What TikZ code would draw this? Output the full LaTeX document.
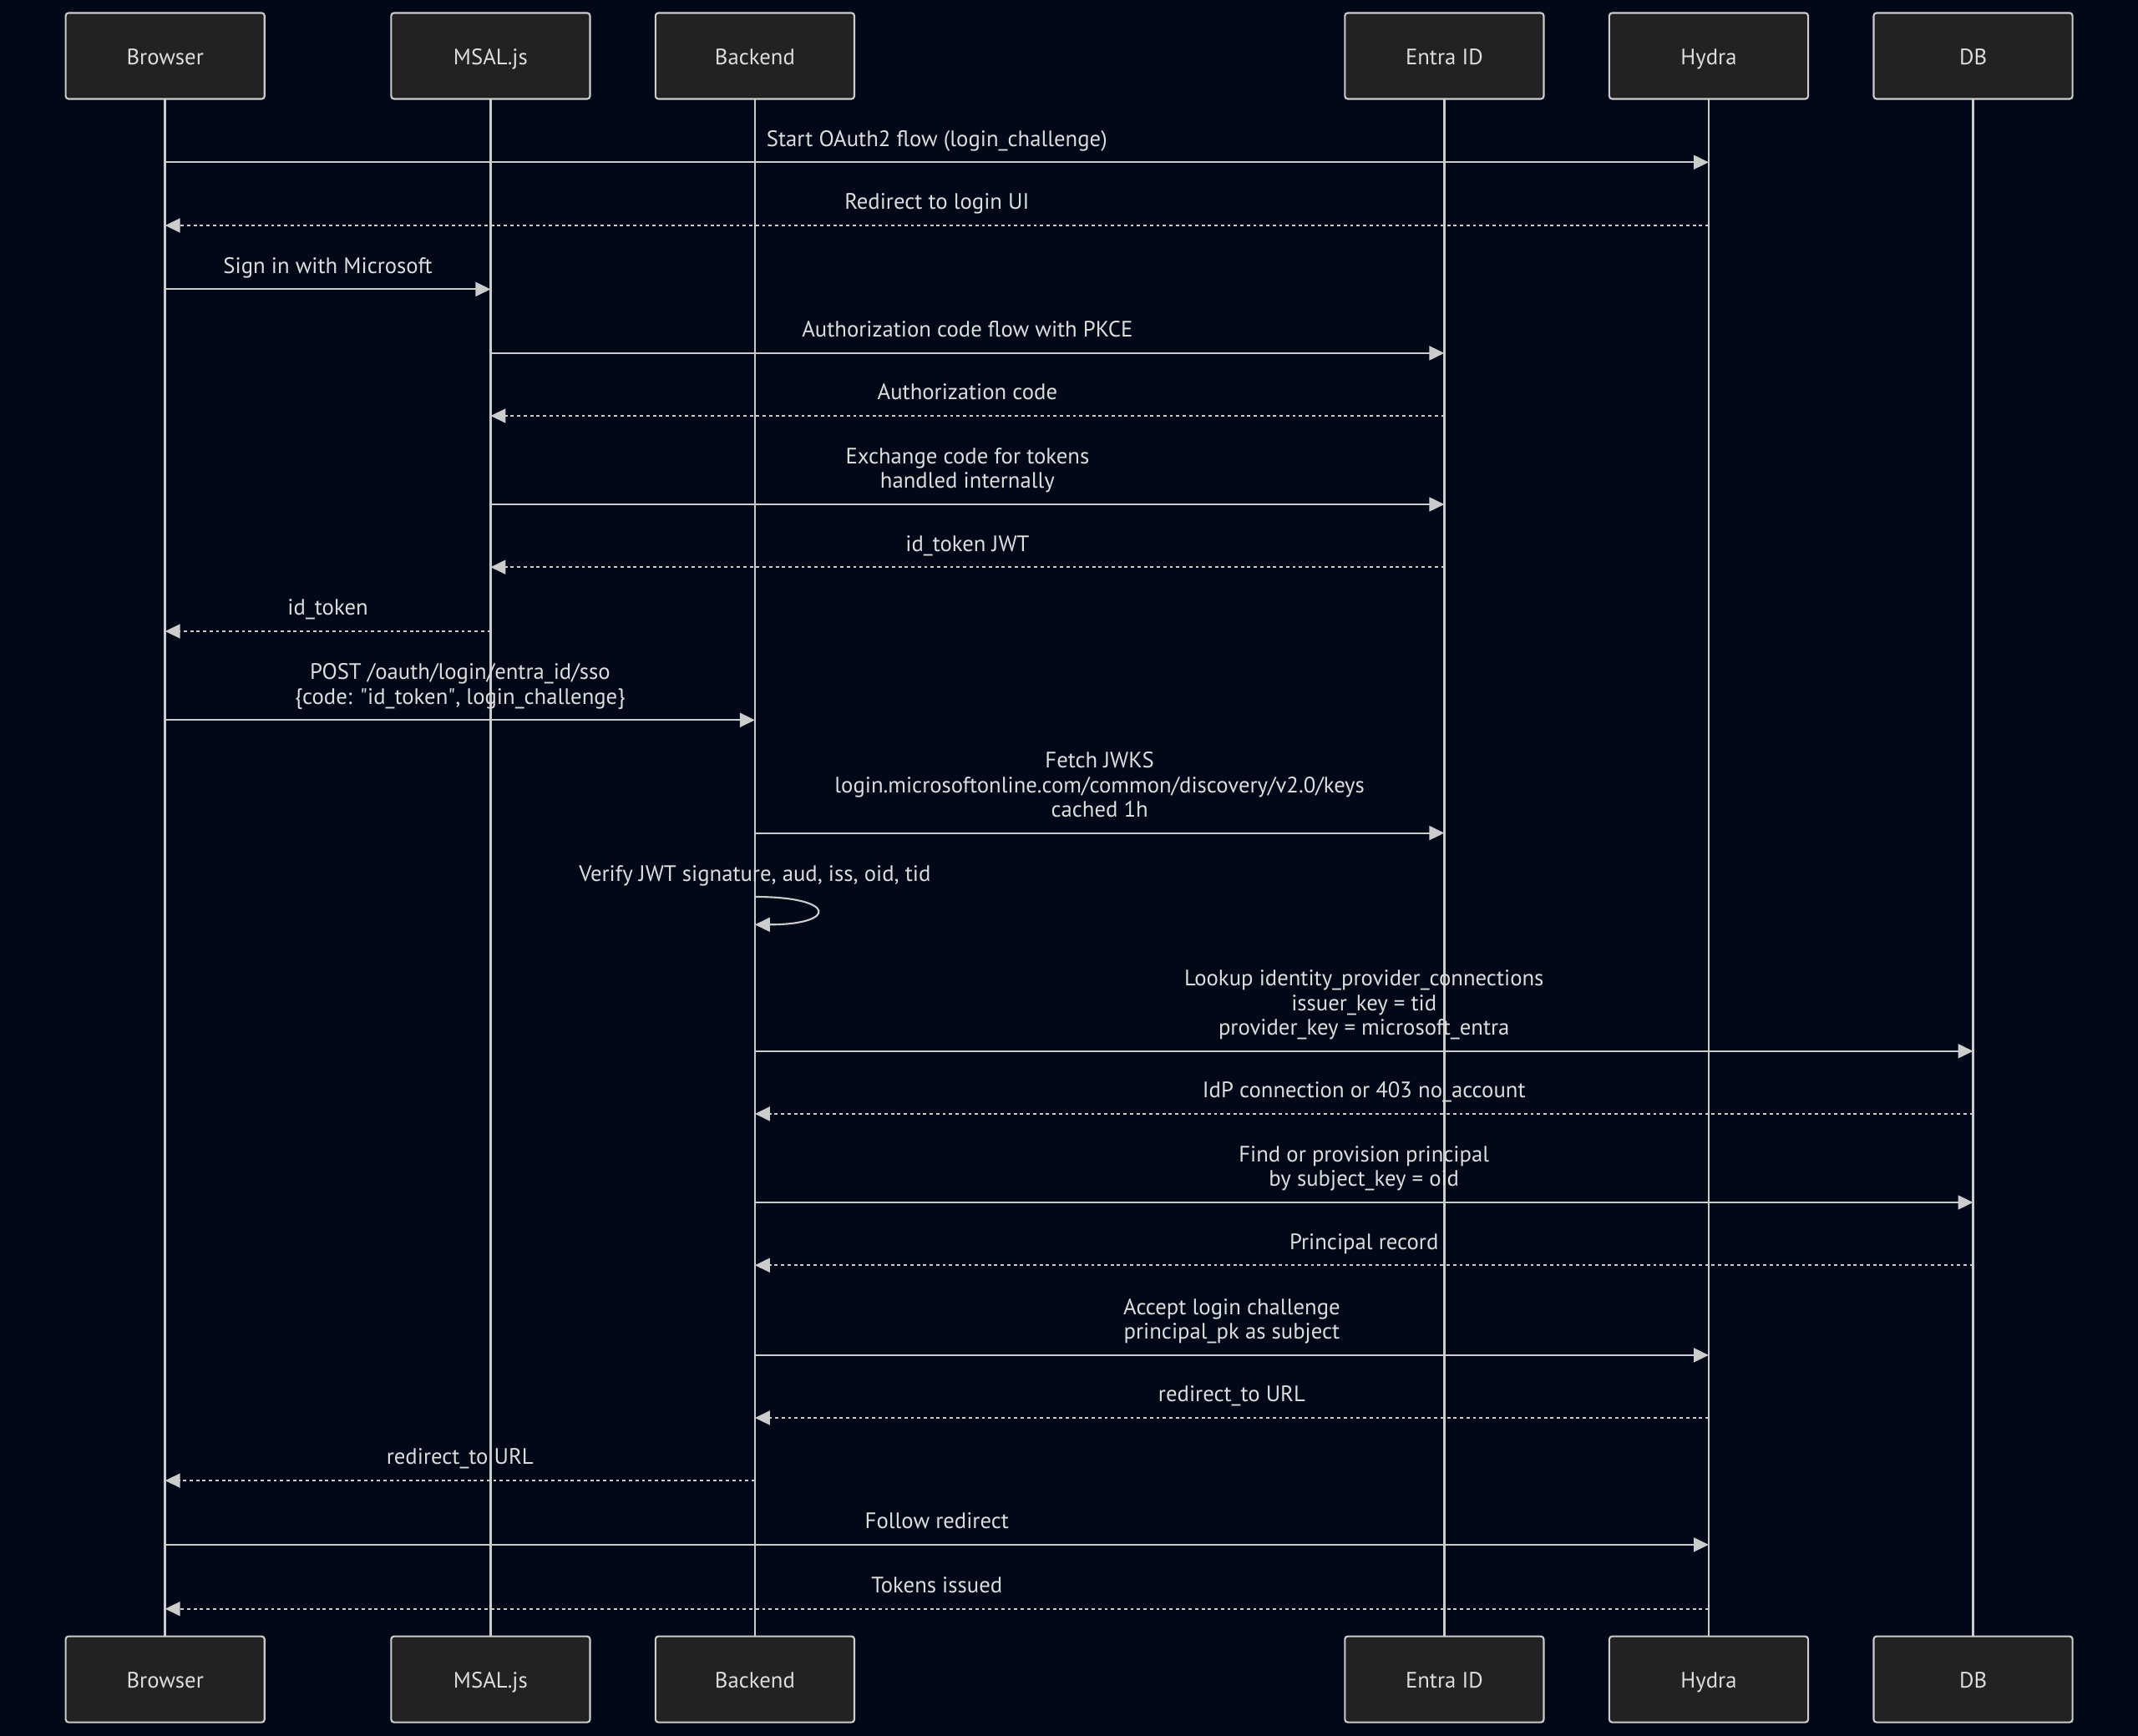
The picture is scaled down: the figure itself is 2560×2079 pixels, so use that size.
\documentclass[tikz,border=0pt]{standalone}
\usepackage{fontspec}
\setmainfont{PT Sans}
\usetikzlibrary{arrows.meta,positioning}

\definecolor{bgnavy}{HTML}{020817}
\definecolor{boxgray}{HTML}{222222}
\definecolor{linegray}{HTML}{CCCCCC}
\definecolor{textgray}{HTML}{DDDDDD}

\begin{document}
\begin{tikzpicture}[
    x=0.01cm, y=-0.01cm,
    font=\fontsize{7.6}{8.35}\selectfont,
    actor/.style={draw=linegray, line width=0.6pt, fill=boxgray, text=textgray, rectangle, rounded corners=1pt, minimum width=2.38cm, minimum height=1.03cm, inner sep=0pt, outer sep=0pt, text height=0.7em, text depth=0.12em},
    life/.style={draw=linegray, line width=0.7pt},
    call/.style={draw=linegray, line width=0.6pt, -{Triangle[length=5.1pt,width=4.8pt]}},
    reply/.style={call, dash pattern=on 1.1pt off 1.1pt},
    msglabel/.style={above=5.15pt, inner sep=0pt, text depth=0pt, text=textgray, align=center}
]

\fill[bgnavy] (0,0) rectangle (2560,2079);

% participants
\node[actor] (p_browser) at (197.7,67) {Browser};
\node[actor, right=1.515cm of p_browser] (p_msal) {MSAL.js};
\node[actor, right=0.783cm of p_msal] (p_backend) {Backend};
\node[actor, right=5.87cm of p_backend] (p_entra) {Entra ID};
\node[actor, right=0.784cm of p_entra] (p_hydra) {Hydra};
\node[actor, right=0.784cm of p_hydra] (p_db) {DB};

\node[actor, below=18.4cm of p_browser] (p_browser_end) {Browser};
\node[actor, below=18.4cm of p_msal] (p_msal_end) {MSAL.js};
\node[actor, below=18.4cm of p_backend] (p_backend_end) {Backend};
\node[actor, below=18.4cm of p_entra] (p_entra_end) {Entra ID};
\node[actor, below=18.4cm of p_hydra] (p_hydra_end) {Hydra};
\node[actor, below=18.4cm of p_db] (p_db_end) {DB};

% lifelines
\draw[life] (p_browser) -- (p_browser_end);
\draw[life] (p_msal) -- (p_msal_end);
\draw[life] (p_backend) -- (p_backend_end);
\draw[life] (p_entra) -- (p_entra_end);
\draw[life] (p_hydra) -- (p_hydra_end);
\draw[life] (p_db) -- (p_db_end);

% message rows
\coordinate (m1) at (0,194.3);
\coordinate (m2) at (0,270.0);
\coordinate (m3) at (0,346.4);
\coordinate (m4) at (0,422.9);
\coordinate (m5) at (0,498.0);
\coordinate (m6) at (0,604.0);
\coordinate (m7) at (0,679.2);
\coordinate (m8) at (0,756.0);
\coordinate (m9) at (0,862.3);
\coordinate (m10) at (0,997.6);
\coordinate (m11a) at (0,1074.0);
\coordinate (m11b) at (0,1107.3);
\coordinate (m12) at (0,1258.8);
\coordinate (m13) at (0,1333.9);
\coordinate (m14) at (0,1440.0);
\coordinate (m15) at (0,1515.2);
\coordinate (m16) at (0,1622.9);
\coordinate (m17) at (0,1698.0);
\coordinate (m18) at (0,1773.1);
\coordinate (m19) at (0,1849.9);
\coordinate (m20) at (0,1926.7);

\draw[call] (p_browser |- m1) -- node[msglabel] (l_start) {Start OAuth2 flow (login\_challenge)} (p_hydra |- m1);
\draw[reply] (p_hydra |- m2) -- node[msglabel] (l_redirect) {Redirect to login UI} (p_browser |- m2);
\draw[call] (p_browser |- m3) -- node[msglabel] (l_signin) {Sign in with Microsoft} (p_msal |- m3);
\draw[call] (p_msal |- m4) -- node[msglabel] (l_authflow) {Authorization code flow with PKCE} (p_entra |- m4);
\draw[reply] (p_entra |- m5) -- node[msglabel] (l_authcode) {Authorization code} (p_msal |- m5);
\draw[call] (p_msal |- m6) -- node[msglabel] (l_exchange) {Exchange code for tokens\\handled internally} (p_entra |- m6);
\draw[reply] (p_entra |- m7) -- node[msglabel] (l_idjwt) {id\_token JWT} (p_msal |- m7);
\draw[reply] (p_msal |- m8) -- node[msglabel] (l_idtoken) {id\_token} (p_browser |- m8);
\draw[call] (p_browser |- m9) -- node[msglabel] (l_post) {POST /oauth/login/entra\_id/sso\\\{code: \textquotedbl id\_token\textquotedbl, login\_challenge\}} (p_backend |- m9);
\draw[call] (p_backend |- m10) -- node[msglabel] (l_jwks) {Fetch JWKS\\login.microsoftonline.com/common/discovery/v2.0/keys\\cached 1h} (p_entra |- m10);

\node[msglabel] (l_verify) at (p_backend |- m11a) {Verify JWT signature, aud, iss, oid, tid};
\draw[call] (p_backend |- m11a) .. controls +(99,0) and +(99,0) .. (p_backend |- m11b);

\draw[call] (p_backend |- m12) -- node[msglabel] (l_lookup) {Lookup identity\_provider\_connections\\issuer\_key = tid\\provider\_key = microsoft\_entra} (p_db |- m12);
\draw[reply] (p_db |- m13) -- node[msglabel] (l_idp) {IdP connection or 403 no\_account} (p_backend |- m13);
\draw[call] (p_backend |- m14) -- node[msglabel] (l_find) {Find or provision principal\\by subject\_key = oid} (p_db |- m14);
\draw[reply] (p_db |- m15) -- node[msglabel] (l_record) {Principal record} (p_backend |- m15);
\draw[call] (p_backend |- m16) -- node[msglabel] (l_accept) {Accept login challenge\\principal\_pk as subject} (p_hydra |- m16);
\draw[reply] (p_hydra |- m17) -- node[msglabel] (l_redir_b) {redirect\_to URL} (p_backend |- m17);
\draw[reply] (p_backend |- m18) -- node[msglabel] (l_redir_a) {redirect\_to URL} (p_browser |- m18);
\draw[call] (p_browser |- m19) -- node[msglabel] (l_follow) {Follow redirect} (p_hydra |- m19);
\draw[reply] (p_hydra |- m20) -- node[msglabel] (l_tokens) {Tokens issued} (p_browser |- m20);

\end{tikzpicture}
\end{document}
